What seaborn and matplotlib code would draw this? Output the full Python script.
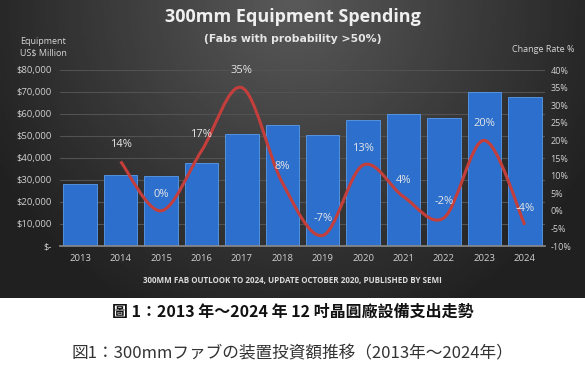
import numpy as np
import pandas as pd
import matplotlib.pyplot as plt
import seaborn as sns
from matplotlib.path import Path
from matplotlib.patches import PathPatch

# Data
years = ['2013', '2014', '2015', '2016', '2017', '2018',
         '2019', '2020', '2021', '2022', '2023', '2024']
spending = [28200, 32200, 32000, 37700, 51000, 54800,
            50500, 57300, 59800, 58300, 70000, 67800]
rate_years = years[1:]
rates = [14, 0, 17, 35, 8, -7, 13, 4, -2, 20, -4]
rate_labels = ['14%', '0%', '17%', '35%', '8%', '-7%', '13%', '4%', '-2%', '20%', '-4%']
left_ticks = [0, 10000, 20000, 30000, 40000, 50000, 60000, 70000, 80000]
left_ticklabels = ['$-', '$10,000', '$20,000', '$30,000', '$40,000',
                   '$50,000', '$60,000', '$70,000', '$80,000']
right_ticks = [-10, -5, 0, 5, 10, 15, 20, 25, 30, 35, 40]

df = pd.DataFrame({'year': years, 'spending': spending})

sns.set_theme(style='white')
plt.rcParams['font.family'] = ['Open Sans', 'DejaVu Sans']

fig = plt.figure(figsize=(5.85, 3.70), dpi=100)
fig.patch.set_facecolor('white')

# dark gradient background panel
bg = fig.add_axes([0, 1 - 298 / 370, 1, 298 / 370], zorder=0)
gx, gy = np.meshgrid(np.linspace(-1, 1, 300), np.linspace(0, 1, 200))
dist = np.sqrt((gx / 1.1) ** 2 + (gy * 0.9) ** 2)
shade = np.clip(0.35 - 0.21 * dist, 0.13, 0.35)
bg.imshow(shade, cmap='gray', vmin=0, vmax=1, aspect='auto', extent=[0, 1, 0, 1])
bg.axis('off')

ax = fig.add_axes([60 / 585, 1 - 246 / 370, 485 / 585, 176 / 370], zorder=2)
ax.patch.set_alpha(0)
sns.barplot(data=df, x='year', y='spending', color='#2c6fcc', width=0.83,
            saturation=1, edgecolor='#5a9ceb', linewidth=0.6, ax=ax)
ax.set_ylim(0, 80000)
ax.set_xlim(-0.5, len(years) - 0.5)
ax.set_yticks(left_ticks)
ax.set_yticklabels(left_ticklabels)
ax.yaxis.grid(True, color='#525252', linewidth=0.8)
ax.set_axisbelow(True)
ax.set_xlabel('')
ax.set_ylabel('')
for s in ['top', 'right', 'left']:
    ax.spines[s].set_visible(False)
ax.spines['bottom'].set_color('#8a8a8a')
ax.spines['bottom'].set_linewidth(1.2)
ax.tick_params(axis='both', colors='#d0d0d0', labelsize=6.8, length=0, pad=6)

ax2 = ax.twinx()
ax2.set_ylim(-10, 40)
ax2.set_yticks(right_ticks)
ax2.set_yticklabels([f'{t}%' for t in right_ticks])
ax2.tick_params(axis='y', colors='#d0d0d0', labelsize=6.5, length=0, pad=4)
for s in ax2.spines.values():
    s.set_visible(False)
ax2.grid(False)

# smoothed change-rate line (Catmull-Rom style bezier through the points)
xs = np.array([years.index(y) for y in rate_years], dtype=float)
ys = np.array(rates, dtype=float)
verts = [(xs[0], ys[0])]
codes = [Path.MOVETO]
n = len(xs)
for i in range(n - 1):
    p0 = (xs[max(i - 1, 0)], ys[max(i - 1, 0)])
    p1 = (xs[i], ys[i])
    p2 = (xs[i + 1], ys[i + 1])
    p3 = (xs[min(i + 2, n - 1)], ys[min(i + 2, n - 1)])
    c1 = (p1[0] + (p2[0] - p0[0]) / 6, p1[1] + (p2[1] - p0[1]) / 6)
    c2 = (p2[0] - (p3[0] - p1[0]) / 6, p2[1] - (p3[1] - p1[1]) / 6)
    verts += [c1, c2, p2]
    codes += [Path.CURVE4] * 3
ax2.add_patch(PathPatch(Path(verts, codes), facecolor='none',
                        edgecolor='#c43f3c', linewidth=2.2, zorder=5))

for x, y, lab in zip(xs, ys, rate_labels):
    ax2.annotate(lab, (x, y), xytext=(0, 8), textcoords='offset points',
                 ha='center', va='bottom', color='#e6e6e6', fontsize=8, zorder=6)

# titles and axis captions
fig.text(0.5, 1 - 17 / 370, '300mm Equipment Spending', ha='center', va='center',
         color='#efefef', fontsize=13, fontweight='bold')
fig.text(0.5, 1 - 39 / 370, '(Fabs with probability >50%)', ha='center', va='center',
         color='#e6e6e6', fontsize=7.8, fontweight='bold',
         family=['DejaVu Sans'])
fig.text(43 / 585, 1 - 47 / 370, 'Equipment\nUS$ Million', ha='center', va='center',
         color='#d6d6d6', fontsize=6.5, linespacing=1.3)
fig.text(543 / 585, 1 - 49 / 370, 'Change Rate %', ha='center', va='center',
         color='#d6d6d6', fontsize=6.5)
fig.text(0.5, 1 - 281 / 370,
         '300MM FAB OUTLOOK TO 2024, UPDATE OCTOBER 2020, PUBLISHED BY SEMI',
         ha='center', va='center', color='#dcdcdc', fontsize=5.8, fontweight='bold')

# captions below the chart
fig.text(0.5, 1 - 312 / 370, '圖 1：2013 年～2024 年 12 吋晶圓廠設備支出走勢',
         ha='center', va='center', color='#111111', fontsize=11.5, fontweight='bold',
         family=['Noto Sans CJK TC', 'DejaVu Sans'])
fig.text(0.5, 1 - 354 / 370, '図1：300mmファブの装置投資額推移（2013年～2024年）',
         ha='center', va='center', color='#333333', fontsize=12,
         family=['Noto Sans CJK JP', 'DejaVu Sans'])

fig.savefig('out.png', dpi=100, facecolor=fig.get_facecolor())
